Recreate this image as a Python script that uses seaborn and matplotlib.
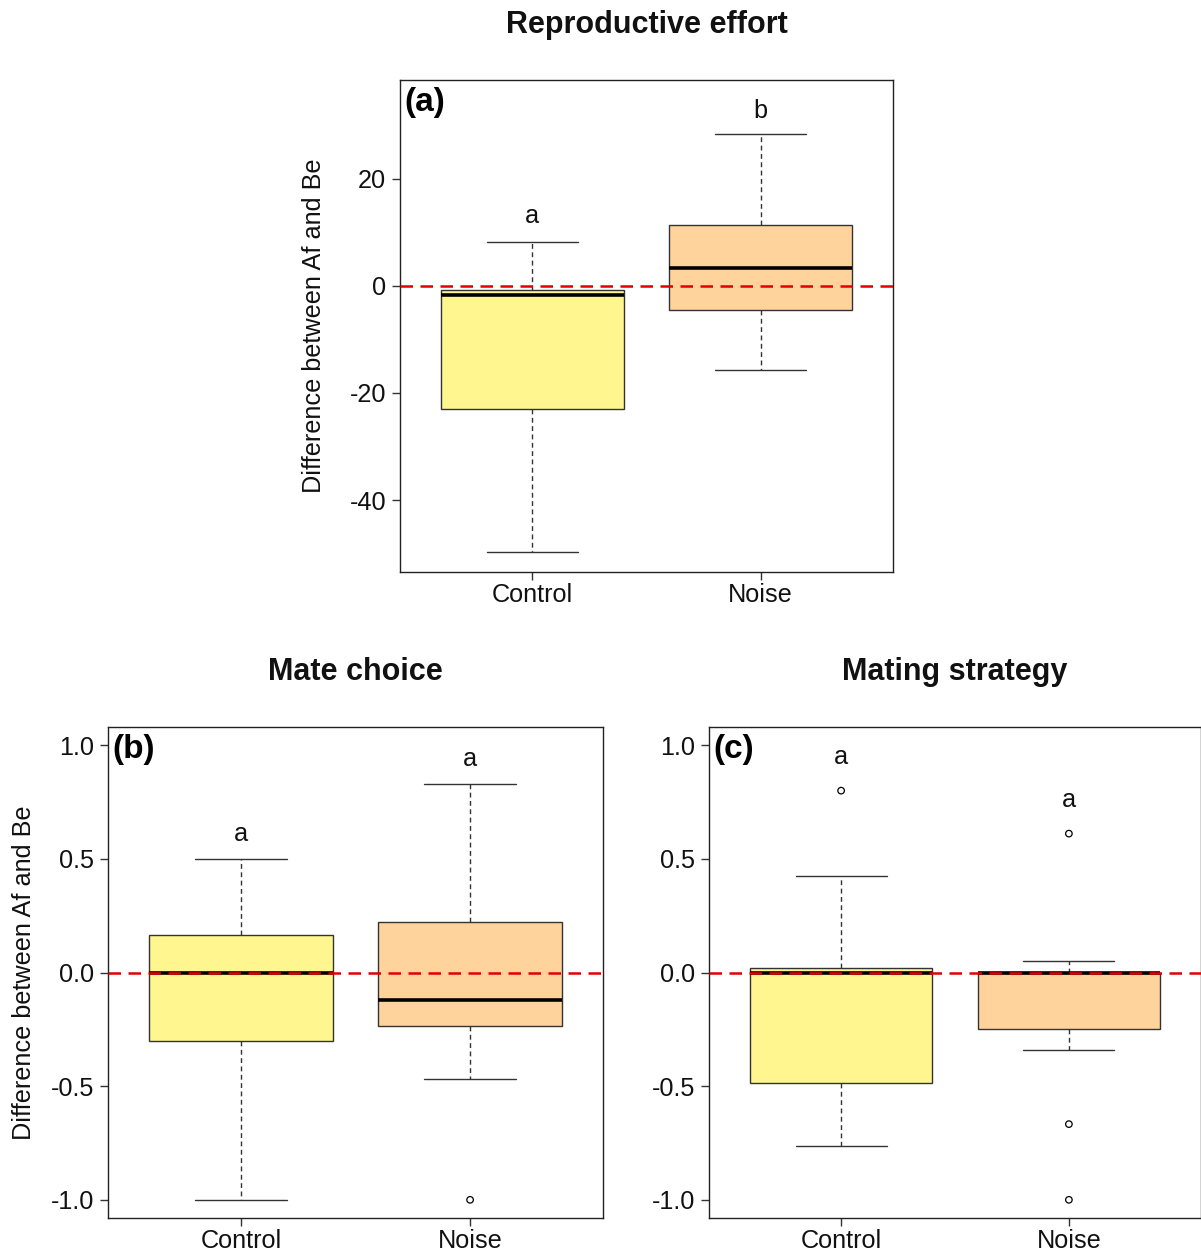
import numpy as np
import pandas as pd
import matplotlib
matplotlib.use("Agg")
import matplotlib.pyplot as plt
import seaborn as sns

# ---- data -----------------------------------------------------------------
groups = ["Control", "Noise"]
box_colors = ["#FFF68F", "#FFD39B"]

# five-number summaries: lower whisker, Q1, median, Q3, upper whisker
effort_control = [-49.7, -22.9, -1.8, -0.8, 8.2]
effort_noise = [-15.8, -4.6, 3.3, 11.3, 28.3]
effort_outliers_control = []
effort_outliers_noise = []
effort_letters = ["a", "b"]
effort_letter_y = [13.0, 32.6]

choice_control = [-1.0, -0.30, 0.0, 0.163, 0.50]
choice_noise = [-0.47, -0.237, -0.119, 0.224, 0.83]
choice_outliers_control = []
choice_outliers_noise = [-1.0]
choice_letters = ["a", "a"]
choice_letter_y = [0.61, 0.94]

strategy_control = [-0.763, -0.488, 0.0, 0.02, 0.426]
strategy_noise = [-0.343, -0.25, 0.0, 0.0, 0.05]
strategy_outliers_control = [0.80]
strategy_outliers_noise = [0.611, -0.667, -1.0]
strategy_letters = ["a", "a"]
strategy_letter_y = [0.95, 0.76]

effort_ticks = [-40, -20, 0, 20]
effort_ticklabels = ["-40", "-20", "0", "20"]
prop_ticks = [-1.0, -0.5, 0.0, 0.5, 1.0]
prop_ticklabels = ["-1.0", "-0.5", "0.0", "0.5", "1.0"]

ylabel = "Difference between Af and Be"

# ---- style ----------------------------------------------------------------
sns.set_theme(style="ticks")
plt.rcParams["font.family"] = ["Liberation Sans", "DejaVu Sans"]
plt.rcParams["axes.unicode_minus"] = False

FS = 18.2
LINE = "#1a1a1a"

fig = plt.figure(figsize=(12.01, 12.48), dpi=100)
W, H = 1201.0, 1248.0


def add_axes_px(left, top, right, bottom):
    return fig.add_axes([left / W, 1 - bottom / H, (right - left) / W, (bottom - top) / H])


def draw_panel(ax, summaries, outliers, letters, letter_y, ylim, yticks,
               yticklabels, tag, show_ylabel):
    box_df = pd.DataFrame({
        "group": np.repeat(groups, [len(s) for s in summaries]),
        "value": np.concatenate([np.asarray(s, float) for s in summaries]),
    })
    sns.boxplot(
        data=box_df, x="group", y="value", hue="group",
        order=groups, hue_order=groups, palette=box_colors, saturation=1,
        width=0.8, whis=(0, 100), fliersize=0,
        linecolor=LINE, linewidth=1.0, legend=False, ax=ax,
        medianprops={"color": "black", "linewidth": 2.6},
        whiskerprops={"color": "#333333", "linewidth": 1.0,
                      "linestyle": (0, (3.5, 2.5))},
        capprops={"color": "#333333", "linewidth": 1.0},
        boxprops={"edgecolor": "#333333", "linewidth": 1.0},
    )

    out_x, out_y = [], []
    for i, vals in enumerate(outliers):
        for v in vals:
            out_x.append(float(i))
            out_y.append(v)
    if out_y:
        sns.scatterplot(x=out_x, y=out_y, ax=ax, marker="o", s=22,
                        facecolor="none", edgecolor="black", linewidth=0.9,
                        legend=False, zorder=4)

    ax.axhline(0, color="#E00000", lw=1.8, dashes=(5, 3), zorder=6)

    for i, (lab, ly) in enumerate(zip(letters, letter_y)):
        ax.text(i, ly, lab, ha="center", va="center", fontsize=FS, color="#111111")

    ax.text(0.008, 0.985, tag, transform=ax.transAxes, ha="left", va="top",
            fontsize=24, fontweight="bold", color="black")

    ax.set_xlim(-0.58, 1.58)
    ax.set_ylim(*ylim)
    ax.set_xticks(range(len(groups)))
    ax.set_xticklabels(groups)
    ax.set_yticks(yticks)
    ax.set_yticklabels(yticklabels)
    ax.set_xlabel("")
    if show_ylabel:
        ax.set_ylabel(ylabel, fontsize=FS, color="#111111")
    else:
        ax.set_ylabel("")
    ax.tick_params(axis="both", labelsize=FS, length=6, width=1.0,
                   color="#333333", labelcolor="#111111", direction="out")
    ax.tick_params(axis="y", pad=4)
    ax.tick_params(axis="x", pad=2)
    for sp in ax.spines.values():
        sp.set_visible(True)
        sp.set_linewidth(1.0)
        sp.set_color("#222222")
    ax.grid(False)


ax_a = add_axes_px(400, 80, 893, 572)
ax_b = add_axes_px(108, 727, 603, 1218)
ax_c = add_axes_px(709, 727, 1201, 1218)

draw_panel(ax_a, [effort_control, effort_noise],
           [effort_outliers_control, effort_outliers_noise],
           effort_letters, effort_letter_y, (-53.4, 38.4),
           effort_ticks, effort_ticklabels, "(a)", True)
draw_panel(ax_b, [choice_control, choice_noise],
           [choice_outliers_control, choice_outliers_noise],
           choice_letters, choice_letter_y, (-1.08, 1.08),
           prop_ticks, prop_ticklabels, "(b)", True)
draw_panel(ax_c, [strategy_control, strategy_noise],
           [strategy_outliers_control, strategy_outliers_noise],
           strategy_letters, strategy_letter_y, (-1.08, 1.08),
           prop_ticks, prop_ticklabels, "(c)", False)

ax_a.yaxis.set_label_coords(-0.150, 0.5)
ax_b.yaxis.set_label_coords(-0.1455, 0.5)

fig.text(647 / W, 1 - 25 / H, "Reproductive effort", ha="center", va="center",
         fontsize=22, fontweight="bold", color="#111111")
fig.text(355 / W, 1 - 672 / H, "Mate choice", ha="center", va="center",
         fontsize=22, fontweight="bold", color="#111111")
fig.text(955 / W, 1 - 672 / H, "Mating strategy", ha="center", va="center",
         fontsize=22, fontweight="bold", color="#111111")

fig.savefig("out.png", dpi=100, facecolor="white")
